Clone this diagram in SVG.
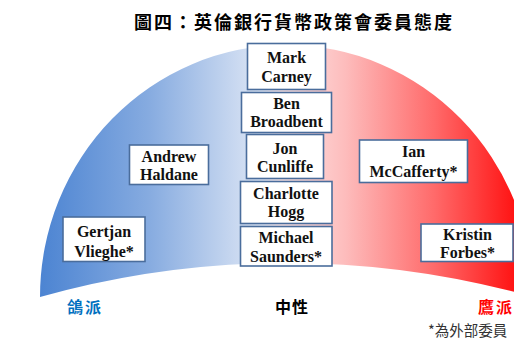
<svg xmlns="http://www.w3.org/2000/svg" width="514" height="340" viewBox="0 0 514 340">
  <defs>
    <linearGradient id="dome" gradientUnits="userSpaceOnUse" x1="40" y1="0" x2="533" y2="0">
      <stop offset="0" stop-color="#4c84d2"/>
      <stop offset="0.22" stop-color="#86abe0"/>
      <stop offset="0.45" stop-color="#dde6f5"/>
      <stop offset="0.49" stop-color="#fde6e6"/>
      <stop offset="0.62" stop-color="#fdbcbc"/>
      <stop offset="0.8" stop-color="#ff6a6a"/>
      <stop offset="1" stop-color="#ff0000"/>
    </linearGradient>
  </defs>
  <style>
    .box { fill: #ffffff; stroke: #4a6d9c; stroke-width: 1.6; }
    .name { font-family: "Liberation Serif", "Times New Roman", serif; font-weight: bold; font-size: 16px; fill: #111111; text-anchor: middle; }
    .cjk { font-family: "Noto Sans CJK TC", "Noto Sans CJK SC", sans-serif; font-weight: bold; }
  </style>
  <rect x="0" y="0" width="514" height="340" fill="#ffffff"/>
  <text class="cjk" x="134" y="28.5" font-size="18" letter-spacing="2" fill="#000000">圖四：英倫銀行貨幣政策會委員態度</text>
  <path d="M 40 297 A 246.5 252 0 0 1 533 297 A 910 910 0 0 0 40 297 Z" fill="url(#dome)"/>
  <g id="connectors"></g>
  <g id="carney">
    <rect class="box" x="247.5" y="43.5" width="78" height="46"/>
    <text class="name" x="286.5" y="63">Mark</text>
    <text class="name" x="286.5" y="81.5">Carney</text>
  </g>
  <g id="broadbent">
    <rect class="box" x="241.5" y="92.5" width="90" height="40"/>
    <text class="name" x="286.5" y="108.5">Ben</text>
    <text class="name" x="286.5" y="127">Broadbent</text>
  </g>
  <g id="cunliffe">
    <rect class="box" x="246.5" y="134.5" width="77" height="44"/>
    <text class="name" x="285" y="153.5">Jon</text>
    <text class="name" x="285" y="172">Cunliffe</text>
  </g>
  <g id="hogg">
    <rect class="box" x="240.5" y="181.5" width="91.5" height="42"/>
    <text class="name" x="286" y="198.5">Charlotte</text>
    <text class="name" x="286" y="216.5">Hogg</text>
  </g>
  <g id="saunders">
    <rect class="box" x="240.5" y="226.5" width="91.5" height="39.5"/>
    <text class="name" x="286" y="243">Michael</text>
    <text class="name" x="286" y="261.5">Saunders*</text>
  </g>
  <g id="haldane">
    <rect class="box" x="129.5" y="145" width="79" height="39.5"/>
    <text class="name" x="169" y="161.5">Andrew</text>
    <text class="name" x="169" y="180">Haldane</text>
  </g>
  <g id="vlieghe">
    <rect class="box" x="63" y="217" width="82" height="44.5"/>
    <text class="name" x="104" y="236.5">Gertjan</text>
    <text class="name" x="104" y="256.5">Vlieghe*</text>
  </g>
  <g id="mccafferty">
    <rect class="box" x="359.5" y="140" width="108" height="42.5"/>
    <text class="name" x="413.5" y="157">Ian</text>
    <text class="name" x="413.5" y="176.5">McCafferty*</text>
  </g>
  <g id="forbes">
    <rect class="box" x="421" y="224" width="92" height="37.5"/>
    <text class="name" x="467.5" y="240">Kristin</text>
    <text class="name" x="467.5" y="258">Forbes*</text>
  </g>
  <text class="cjk" x="67" y="313" font-size="16" letter-spacing="2" fill="#0070c0">鴿派</text>
  <text class="cjk" x="275" y="313" font-size="16" letter-spacing="1" fill="#000000">中性</text>
  <text class="cjk" x="478" y="313" font-size="16" letter-spacing="2" fill="#ff0000">鷹派</text>
  <text x="428" y="336" font-family="Noto Sans CJK TC, Noto Sans CJK SC, sans-serif" font-size="14.5" fill="#333333">*為外部委員</text>
</svg>
